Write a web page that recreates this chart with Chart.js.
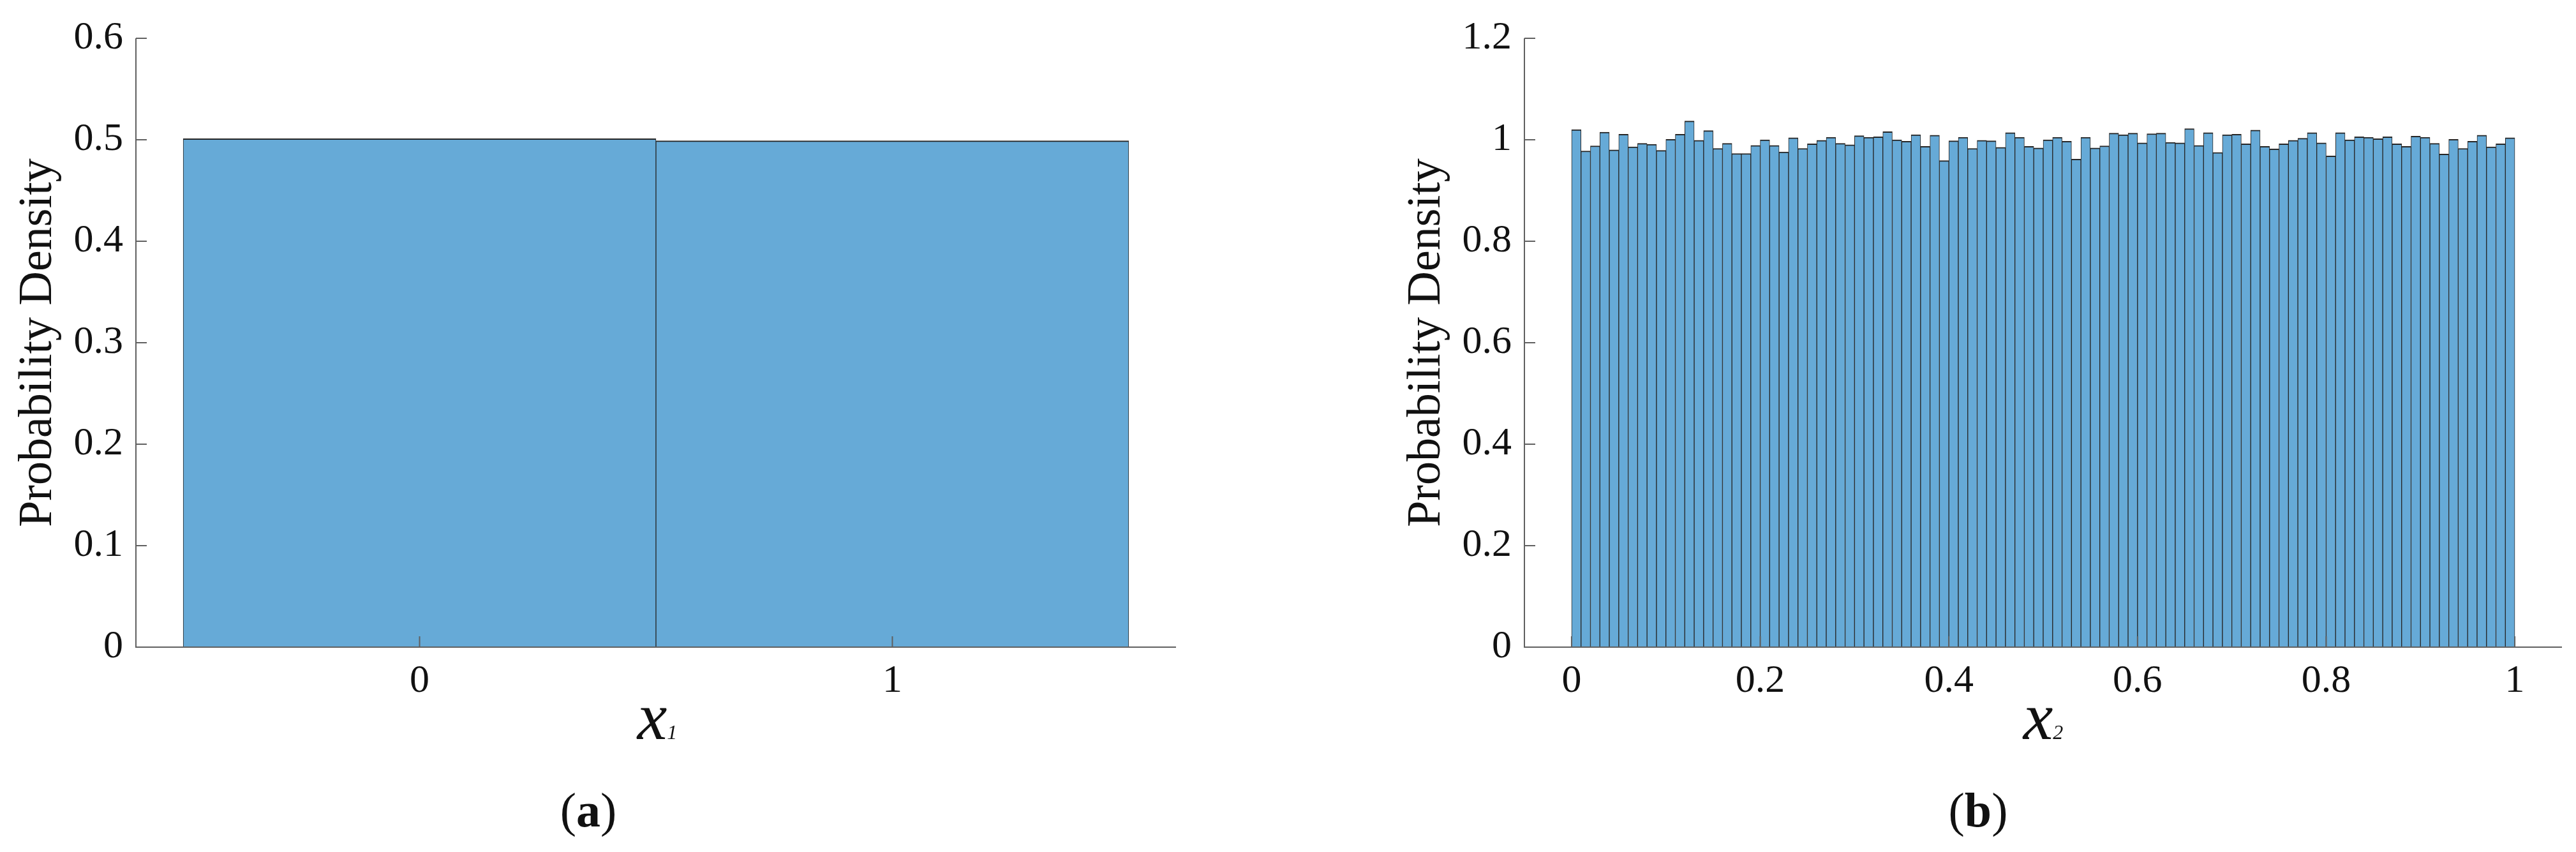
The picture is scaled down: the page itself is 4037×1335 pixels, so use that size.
<!DOCTYPE html>
<html>
<head>
<meta charset="utf-8">
<script src="https://cdn.jsdelivr.net/npm/chart.js@4.4.0/dist/chart.umd.min.js"></script>
<style>
  html, body { margin: 0; padding: 0; background: #fff; }
  body { width: 4037px; height: 1335px; position: relative; overflow: hidden;
         font-family: "Liberation Serif", "Times New Roman", serif; color: #111; }
  canvas { position: absolute; top: 0; }
  .xlabel { position: absolute; top: 1070px; font-size: 105px; line-height: 1;
            font-style: italic; transform: translateX(-50%); white-space: nowrap; }
  .xlabel span { font-size: 32px; }
  .caption { position: absolute; top: 1231px; font-size: 76px; line-height: 1;
             transform: translateX(-50%); white-space: nowrap; }
</style>
</head>
<body>
<canvas id="chartA" width="1860" height="1335" style="left:0px"></canvas>
<canvas id="chartB" width="1861" height="1335" style="left:2176px"></canvas>
<div class="xlabel" style="left:1030px">x<span>1</span></div>
<div class="xlabel" style="left:3202px">x<span>2</span></div>
<div class="caption" style="left:922px">(<b>a</b>)</div>
<div class="caption" style="left:3100px">(<b>b</b>)</div>
<script>
// (a) x1: two integer bins
const x1Values = [0, 1];
const x1Density = [0.501, 0.499];
const x1Ticks = [0, 1];
const x1TickLabels = ["0", "1"];
const y1Ticks = [0, 0.1, 0.2, 0.3, 0.4, 0.5, 0.6];
const y1TickLabels = ["0", "0.1", "0.2", "0.3", "0.4", "0.5", "0.6"];

// (b) x2: 100 bins of width 0.01 on [0, 1]
const x2BinWidth = 0.01;
const x2Density = [
  1.020, 0.978, 0.988, 1.015, 0.980, 1.011, 0.986, 0.993, 0.991, 0.979,
  1.001, 1.011, 1.037, 0.999, 1.018, 0.983, 0.993, 0.973, 0.973, 0.989,
  1.000, 0.989, 0.976, 1.004, 0.983, 0.992, 0.999, 1.005, 0.993, 0.990,
  1.008, 1.005, 1.006, 1.016, 1.000, 0.997, 1.010, 0.987, 1.009, 0.959,
  0.998, 1.005, 0.983, 0.999, 0.998, 0.985, 1.014, 1.005, 0.987, 0.984,
  1.000, 1.005, 0.997, 0.962, 1.005, 0.984, 0.988, 1.013, 1.010, 1.013,
  0.994, 1.012, 1.013, 0.995, 0.994, 1.022, 0.989, 1.014, 0.975, 1.010,
  1.011, 0.992, 1.019, 0.987, 0.982, 0.992, 0.999, 1.003, 1.014, 0.994,
  0.968, 1.014, 1.000, 1.006, 1.005, 1.002, 1.006, 0.992, 0.987, 1.007,
  1.005, 0.993, 0.972, 1.001, 0.983, 0.997, 1.009, 0.986, 0.992, 1.004
];
const x2Ticks = [0, 0.2, 0.4, 0.6, 0.8, 1];
const x2TickLabels = ["0", "0.2", "0.4", "0.6", "0.8", "1"];
const y2Ticks = [0, 0.2, 0.4, 0.6, 0.8, 1, 1.2];
const y2TickLabels = ["0", "0.2", "0.4", "0.6", "0.8", "1", "1.2"];

const BAR_FILL = "#66aad7";
const BAR_EDGE = "#262626";
const AXIS_COLOR = "#606060";
const TEXT_COLOR = "#111111";
const FONT = "'Liberation Serif', 'Times New Roman', serif";
const TICK_LEN = 17;

// MATLAB-style axes: ticks point into the plot, drawn over the bars
const inwardAxes = {
  id: "inwardAxes",
  afterDatasetsDraw(chart) {
    const { ctx, chartArea: a, scales: { x, y } } = chart;
    ctx.save();
    ctx.strokeStyle = AXIS_COLOR;
    ctx.lineWidth = 2;
    ctx.beginPath();
    x.ticks.forEach((t) => {
      const px = x.getPixelForValue(t.value);
      ctx.moveTo(px, a.bottom);
      ctx.lineTo(px, a.bottom - TICK_LEN);
    });
    y.ticks.forEach((t) => {
      const py = y.getPixelForValue(t.value);
      ctx.moveTo(a.left, py);
      ctx.lineTo(a.left + TICK_LEN, py);
    });
    ctx.moveTo(a.left, a.top);
    ctx.lineTo(a.left, a.bottom);
    ctx.lineTo(a.right, a.bottom);
    ctx.stroke();
    ctx.restore();
  },
};

function histogram(canvas, cfg) {
  return new Chart(canvas, {
    type: "bar",
    data: {
      datasets: [{
        data: cfg.xs.map((x, i) => ({ x: x, y: cfg.ys[i] })),
        backgroundColor: BAR_FILL,
        borderColor: BAR_EDGE,
        borderWidth: { top: 2, left: 1, right: 1, bottom: 0 },
        borderSkipped: "start",
        barPercentage: 1,
        categoryPercentage: 1,
      }],
    },
    options: {
      responsive: false,
      animation: false,
      devicePixelRatio: 1,
      layout: { padding: { top: 60, right: cfg.padRight, bottom: 201, left: 0 } },
      plugins: { legend: { display: false }, tooltip: { enabled: false } },
      scales: {
        x: {
          type: "linear",
          min: cfg.xMin,
          max: cfg.xMax,
          offset: false,
          grid: { display: true, drawOnChartArea: false, drawTicks: false },
          border: { display: false },
          afterBuildTicks: (axis) => { axis.ticks = cfg.xTicks.map((v) => ({ value: v })); },
          afterFit: (axis) => { axis.height = 120; },
          ticks: {
            padding: 17,
            maxRotation: 0,
            autoSkip: false,
            color: TEXT_COLOR,
            font: { family: FONT, size: 62 },
            callback: (v, i) => cfg.xTickLabels[i],
          },
        },
        y: {
          min: 0,
          max: cfg.yMax,
          grid: { display: true, drawOnChartArea: false, drawTicks: false },
          border: { display: false },
          afterBuildTicks: (axis) => { axis.ticks = cfg.yTicks.map((v) => ({ value: v })); },
          afterFit: (axis) => { axis.width = 213; },
          ticks: {
            padding: 20,
            color: TEXT_COLOR,
            font: { family: FONT, size: 62 },
            callback: (v, i) => cfg.yTickLabels[i],
          },
          title: {
            display: true,
            text: "Probability Density",
            color: TEXT_COLOR,
            font: { family: FONT, size: 74 },
            padding: { top: 16, bottom: 0 },
          },
        },
      },
    },
    plugins: [inwardAxes],
  });
}

histogram(document.getElementById("chartA"), {
  xs: x1Values, ys: x1Density,
  xMin: -0.6, xMax: 1.6, yMax: 0.6,
  xTicks: x1Ticks, xTickLabels: x1TickLabels,
  yTicks: y1Ticks, yTickLabels: y1TickLabels,
  padRight: 17,
});

histogram(document.getElementById("chartB"), {
  xs: x2Density.map((_, i) => (i + 0.5) * x2BinWidth), ys: x2Density,
  xMin: -0.05, xMax: 1.05, yMax: 1.2,
  xTicks: x2Ticks, xTickLabels: x2TickLabels,
  yTicks: y2Ticks, yTickLabels: y2TickLabels,
  padRight: 22,
});
</script>
</body>
</html>
